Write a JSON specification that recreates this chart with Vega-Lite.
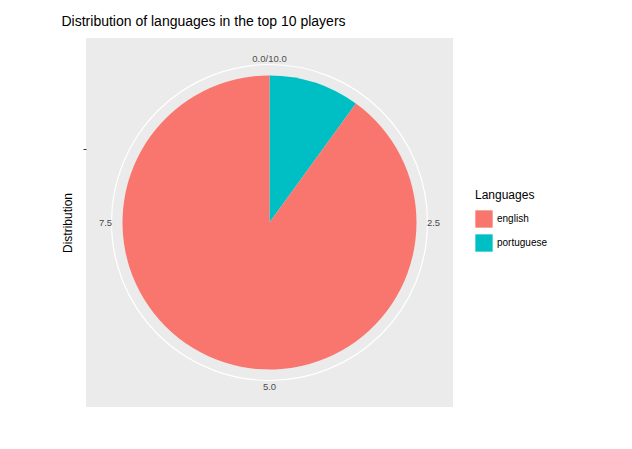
{
  "$schema": "https://vega.github.io/schema/vega-lite/v6.json",
  "autosize": "none",
  "width": 367,
  "height": 369,
  "padding": {"left": 86, "top": 38, "right": 179, "bottom": 42},
  "view": {"fill": "#EBEBEB", "stroke": null},
  "title": {"text": "Distribution of languages in the top 10 players", "anchor": "start", "fontSize": 14, "fontWeight": "normal", "font": "Liberation Sans", "color": "#000000", "offset": 9},
  "config": {"font": "Liberation Sans"},
  "datasets": {
    "langs": [
      {"language": "portuguese", "count": 1, "ord": 1},
      {"language": "english", "count": 9, "ord": 2}
    ],
    "ticks": [
      {"pos": 0, "label": "0.0/10.0"},
      {"pos": 2.5, "label": "2.5"},
      {"pos": 5, "label": "5.0"},
      {"pos": 7.5, "label": "7.5"}
    ]
  },
  "layer": [
    {
      "data": {"values": [{"v": 0}]},
      "mark": {"type": "point", "opacity": 0},
      "encoding": {
        "y": {"field": "v", "type": "quantitative", "scale": {"domain": [-1, 1]},
          "axis": {"title": "Distribution", "values": [0.4], "labels": false, "grid": false, "domain": false, "tickColor": "#333333", "tickSize": 3, "titleFontWeight": "normal", "titleFontSize": 12, "titleColor": "#000000", "titlePadding": 8}}
      }
    },
    {
      "data": {"values": [{"v": 0}]},
      "mark": {"type": "arc", "radius": 158, "fill": null, "stroke": "#FFFFFF", "strokeWidth": 1.2},
      "encoding": {"theta": {"value": 0}, "theta2": {"value": 6.2832}}
    },
    {
      "data": {"name": "langs"},
      "mark": {"type": "arc", "radius": 147},
      "encoding": {
        "theta": {"field": "count", "type": "quantitative", "stack": true, "scale": {"domain": [0, 10]}},
        "order": {"field": "ord"},
        "color": {"field": "language", "type": "nominal", "scale": {"domain": ["english", "portuguese"], "range": ["#F8766D", "#00BFC4"]},
          "legend": {"title": "Languages", "symbolType": "square", "symbolSize": 300, "symbolStrokeWidth": 0, "titleFontWeight": "normal", "titleFontSize": 12, "labelFontSize": 10, "titleColor": "#000000", "labelColor": "#000000", "orient": "none", "legendX": 389, "legendY": 152, "rowPadding": 6, "titlePadding": 8}}
      }
    },
    {
      "data": {"name": "ticks"},
      "mark": {"type": "text", "radius": 164, "fontSize": 9.5, "color": "#4D4D4D"},
      "encoding": {
        "theta": {"field": "pos", "type": "quantitative", "scale": {"domain": [0, 10]}},
        "text": {"field": "label"}
      }
    }
  ]
}
